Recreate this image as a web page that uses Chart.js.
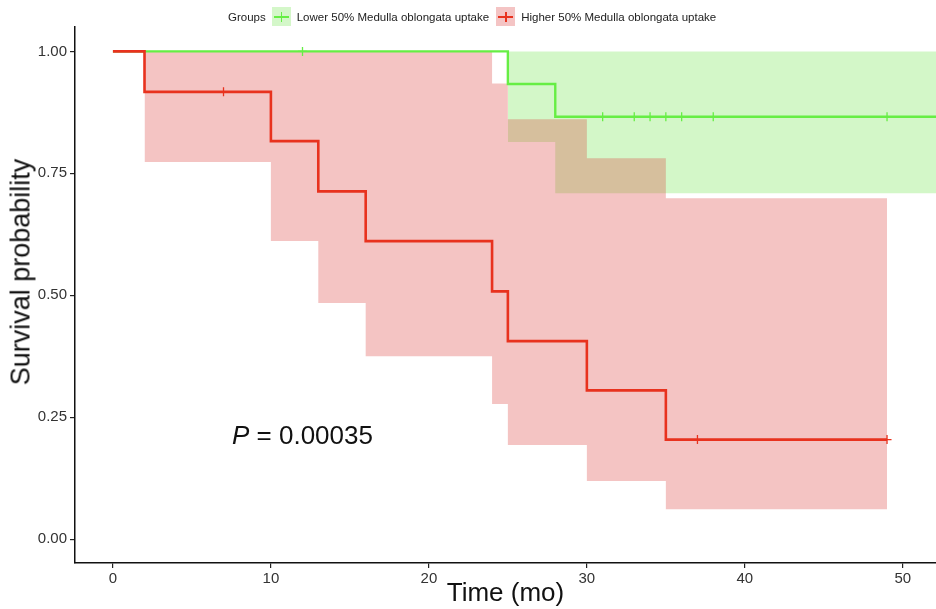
<!DOCTYPE html>
<html>
<head>
<meta charset="utf-8">
<script src="https://cdn.jsdelivr.net/npm/chart.js@4.4.0/dist/chart.umd.min.js"></script>
<style>
  html, body { margin:0; padding:0; background:#fff; overflow:hidden; }
  #wrap { position:relative; width:936px; height:609px; font-family:"Liberation Sans", Arial, sans-serif; }
  canvas { display:block; }
  #legend { position:absolute; top:7px; left:228px; display:flex; align-items:center; font-size:11.5px; color:#222; white-space:nowrap; }
  #legend .key { width:19px; height:19px; position:relative; margin:0 6px 0 6px; }
  #legend .key:before { content:""; position:absolute; left:2px; right:2px; top:9px; height:2px; }
  #legend .key:after { content:""; position:absolute; left:9px; top:5px; width:1.5px; height:10px; }
  #legend .g { background:#d4f7c9; } #legend .g:before, #legend .g:after { background:#66ee44; }
  #legend .r { background:#f4c4c4; } #legend .r:before, #legend .r:after { background:#e8321e; }
  #pval { position:absolute; left:232px; top:420px; font-size:26px; color:#111; }
  #ytitle { position:absolute; left:21px; top:272px; transform:translate(-50%,-50%) rotate(-90deg); font-size:27px; color:#111; white-space:nowrap; }
</style>
</head>
<body>
<div id="wrap">
  <canvas id="km" width="936" height="609"></canvas>
  <div id="legend">
    <span>Groups</span>
    <span class="key g"></span><span>Lower 50% Medulla oblongata uptake</span>
    <span class="key r" style="margin-left:7px"></span><span>Higher 50% Medulla oblongata uptake</span>
  </div>
  <div id="pval"><i>P</i> = 0.00035</div>
  <div id="ytitle">Survival probability</div>
</div>
<script>
// Kaplan-Meier step data (time in months, survival probability)
const lowTimes = [0, 25, 28, 52.1];
const lowSurv = [1, 0.933, 0.866, 0.866];
const lowCensorTimes = [12, 31, 33, 34, 35, 36, 38, 49];
const lowCensorSurv = [1, 0.866, 0.866, 0.866, 0.866, 0.866, 0.866, 0.866];
const lowBandTimes = [25, 28, 52.1];
const lowBandUpper = [1, 1, 1];
const lowBandLower = [0.814, 0.709, 0.709];

const highTimes = [0, 2, 10, 13, 16, 24, 25, 30, 35, 49];
const highSurv = [1, 0.917, 0.816, 0.713, 0.611, 0.508, 0.406, 0.305, 0.204, 0.204];
const highCensorTimes = [7, 37, 49];
const highCensorSurv = [0.917, 0.204, 0.204];
const highBandTimes = [2, 10, 13, 16, 24, 25, 30, 35, 49];
const highBandUpper = [1, 1, 1, 1, 0.934, 0.861, 0.781, 0.699, 0.699];
const highBandLower = [0.773, 0.611, 0.484, 0.375, 0.277, 0.193, 0.119, 0.061, 0.061];

const xTicks = [0, 10, 20, 30, 40, 50];
const yTicks = [0, 0.25, 0.5, 0.75, 1];

const RED = '#e8321e', GREEN = '#66ee44';
const pts = (xs, ys) => xs.map((x, i) => ({x: x, y: ys[i]}));

// 'before' in chart.js = horizontal first, then the drop (KM style)
function stepLine(data, color, w) {
  return { data: data, borderColor: color, borderWidth: w, stepped: 'before', pointRadius: 0, fill: false, showLine: true };
}
function censor(data, color) {
  return { data: data, showLine: false, pointStyle: 'cross', pointRadius: 4.5, borderColor: color, borderWidth: 1.3, pointHoverRadius: 4.5 };
}
function band(data, fillColor, fillTo) {
  return { data: data, showLine: true, borderWidth: 0, borderColor: 'rgba(0,0,0,0)', stepped: 'before', pointRadius: 0, fill: fillTo, backgroundColor: fillColor };
}

new Chart(document.getElementById('km'), {
  type: 'scatter',
  data: {
    datasets: [
      stepLine(pts(highTimes, highSurv), RED, 2.6),
      censor(pts(highCensorTimes, highCensorSurv), RED),
      stepLine(pts(lowTimes, lowSurv), GREEN, 2.4),
      censor(pts(lowCensorTimes, lowCensorSurv), GREEN),
      band(pts(highBandTimes, highBandUpper), 'rgba(218,58,55,0.3)', '+1'),
      band(pts(highBandTimes, highBandLower), 'rgba(0,0,0,0)', false),
      band(pts(lowBandTimes, lowBandUpper), 'rgba(108,228,72,0.3)', '+1'),
      band(pts(lowBandTimes, lowBandLower), 'rgba(0,0,0,0)', false)
    ]
  },
  options: {
    responsive: false,
    animation: false,
    layout: { autoPadding: false, padding: { top: 27, right: 0, left: 0, bottom: 0 } },
    plugins: { legend: { display: false }, tooltip: { enabled: false } },
    scales: {
      x: {
        type: 'linear', min: -2.4, max: 52.1,
        afterBuildTicks: s => { s.ticks = xTicks.map(v => ({value: v})); },
        afterFit: s => { s.height = 46; s.paddingRight = 0; s.paddingLeft = 0; },
        grid: { display: true, drawOnChartArea: false, drawTicks: true, tickLength: 5, color: '#222', lineWidth: 1.2 },
        border: { display: true, color: '#111', width: 1.5 },
        ticks: { color: '#333', font: { size: 15, family: 'Liberation Sans' }, padding: 2 },
        title: { display: true, text: 'Time (mo)', color: '#111', font: { size: 26, family: 'Liberation Sans' }, padding: { top: 0, bottom: 0 } }
      },
      y: {
        type: 'linear', min: -0.049, max: 1.05,
        afterBuildTicks: s => { s.ticks = yTicks.map(v => ({value: v})); },
        afterFit: s => { s.width = 75; },
        grid: { display: true, drawOnChartArea: false, drawTicks: true, tickLength: 5, color: '#222', lineWidth: 1.2 },
        border: { display: true, color: '#111', width: 1.5 },
        ticks: { color: '#333', font: { size: 15, family: 'Liberation Sans' }, padding: 3, callback: v => v.toFixed(2) },
        title: { display: false }
      }
    }
  }
});
</script>
</body>
</html>
